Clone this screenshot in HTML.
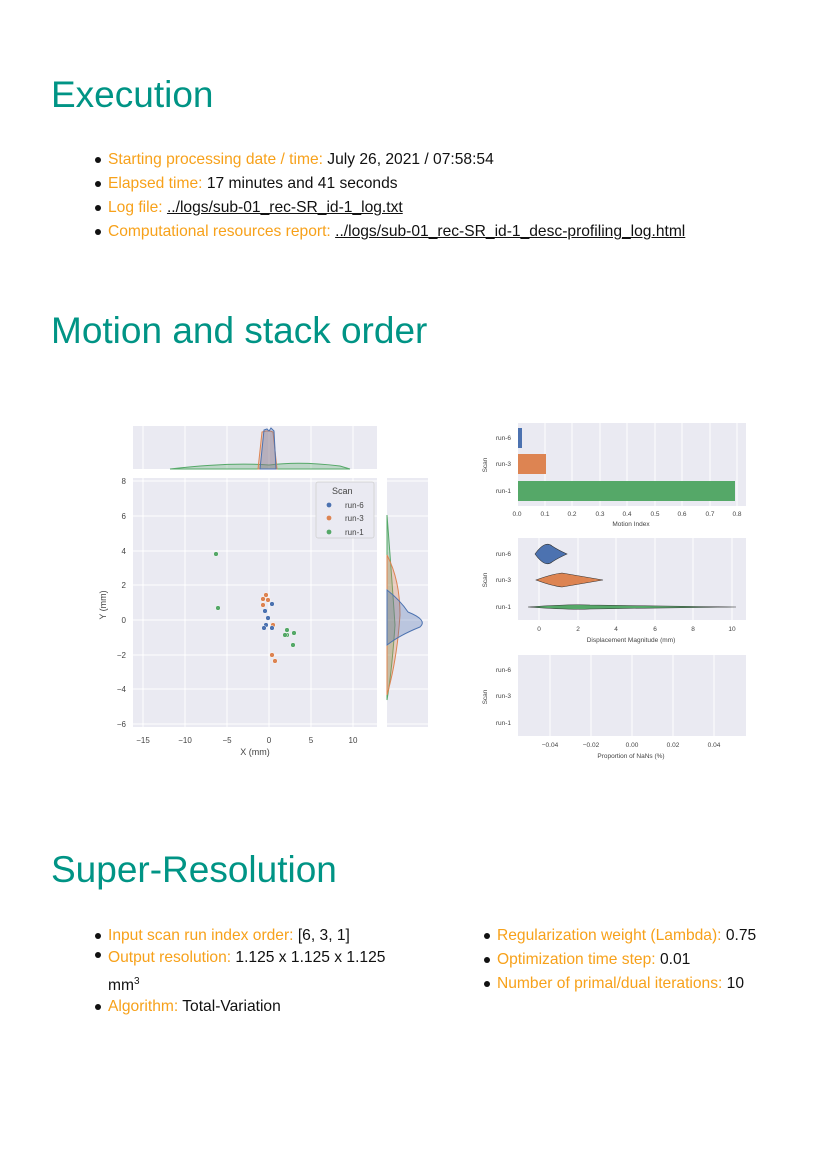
<!DOCTYPE html>
<html><head><meta charset="utf-8"><style>
body{margin:0;background:#fff;}
#p{position:relative;width:826px;height:1169px;overflow:hidden;font-family:"Liberation Sans",sans-serif;}
h1{position:absolute;margin:0;font-weight:normal;font-size:37px;color:#009485;left:51px;}
.li{position:absolute;font-size:15.6px;color:#111;white-space:nowrap;}
.li:before{content:"";position:absolute;left:-13px;top:6px;width:6px;height:6px;border-radius:50%;background:#111;}
.o{color:#f7a11a;}
.u{text-decoration:underline;}
</style></head><body><div id="p">
<h1 style="top:74px">Execution</h1>
<div class="li" style="left:108px;top:151px"><span class="o">Starting processing date / time:</span> July 26, 2021 / 07:58:54</div>
<div class="li" style="left:108px;top:175px"><span class="o">Elapsed time:</span> 17 minutes and 41 seconds</div>
<div class="li" style="left:108px;top:199px"><span class="o">Log file:</span> <span class="u">../logs/sub-01_rec-SR_id-1_log.txt</span></div>
<div class="li" style="left:108px;top:223px"><span class="o">Computational resources report:</span> <span class="u">../logs/sub-01_rec-SR_id-1_desc-profiling_log.html</span></div>
<h1 style="top:310px">Motion and stack order</h1>
<h1 style="top:849px">Super-Resolution</h1>
<div class="li" style="left:108px;top:927px"><span class="o">Input scan run index order:</span> [6, 3, 1]</div>
<div class="li" style="left:108px;line-height:24px;top:946px"><span class="o">Output resolution:</span> 1.125 x 1.125 x 1.125<br>mm<sup style="font-size:10px">3</sup></div>
<div class="li" style="left:108px;top:998px"><span class="o">Algorithm:</span> Total-Variation</div>
<div class="li" style="left:497px;top:927px"><span class="o">Regularization weight (Lambda):</span> 0.75</div>
<div class="li" style="left:497px;top:951px"><span class="o">Optimization time step:</span> 0.01</div>
<div class="li" style="left:497px;top:975px"><span class="o">Number of primal/dual iterations:</span> 10</div>

<svg width="826" height="1169" style="position:absolute;left:0;top:0" font-family="Liberation Sans, sans-serif" font-size="8" fill="#444">
<rect x="133" y="426" width="244" height="43" fill="#eaeaf2"/>
<g stroke="#fff" stroke-width="1"><line x1="143" y1="426" x2="143" y2="469"/><line x1="185" y1="426" x2="185" y2="469"/><line x1="227" y1="426" x2="227" y2="469"/><line x1="269" y1="426" x2="269" y2="469"/><line x1="311" y1="426" x2="311" y2="469"/><line x1="353" y1="426" x2="353" y2="469"/></g>
<path d="M170,469 Q230,462 269,465 Q300,461 340,466 L350,469Z" fill="#55a868" fill-opacity=".3" stroke="#55a868"/>
<path d="M258,469 L262,432 L266,431 L270,431 L273,432 L277,469Z" fill="#dd8452" fill-opacity=".3" stroke="#dd8452"/>
<path d="M260,469 L264,430 L267,429 L269,431 L271,428 L274,431 L276,469Z" fill="#4c72b0" fill-opacity=".3" stroke="#4c72b0"/>
<rect x="387" y="478" width="41" height="249" fill="#eaeaf2"/>
<g stroke="#fff"><line x1="387" y1="481" x2="428" y2="481"/><line x1="387" y1="516" x2="428" y2="516"/><line x1="387" y1="551" x2="428" y2="551"/><line x1="387" y1="585" x2="428" y2="585"/><line x1="387" y1="620" x2="428" y2="620"/><line x1="387" y1="655" x2="428" y2="655"/><line x1="387" y1="689" x2="428" y2="689"/><line x1="387" y1="724" x2="428" y2="724"/></g>
<path d="M387,515 Q392,580 395,625 Q392,670 387,700Z" fill="#55a868" fill-opacity=".3" stroke="#55a868"/>
<path d="M387,555 Q400,580 400,615 Q397,660 387,695Z" fill="#dd8452" fill-opacity=".3" stroke="#dd8452"/>
<path d="M387,590 Q400,600 408,612 Q428,620 420,627 Q400,635 387,645Z" fill="#4c72b0" fill-opacity=".3" stroke="#4c72b0"/>
<rect x="133" y="478" width="244" height="249" fill="#eaeaf2"/>
<g stroke="#fff"><line x1="143" y1="478" x2="143" y2="727"/><line x1="185" y1="478" x2="185" y2="727"/><line x1="227" y1="478" x2="227" y2="727"/><line x1="269" y1="478" x2="269" y2="727"/><line x1="311" y1="478" x2="311" y2="727"/><line x1="353" y1="478" x2="353" y2="727"/>
<line x1="133" y1="481" x2="377" y2="481"/><line x1="133" y1="516" x2="377" y2="516"/><line x1="133" y1="551" x2="377" y2="551"/><line x1="133" y1="585" x2="377" y2="585"/><line x1="133" y1="620" x2="377" y2="620"/><line x1="133" y1="655" x2="377" y2="655"/><line x1="133" y1="689" x2="377" y2="689"/><line x1="133" y1="724" x2="377" y2="724"/></g>
<g text-anchor="end"><text x="126" y="484">8</text><text x="126" y="519">6</text><text x="126" y="554">4</text><text x="126" y="588">2</text><text x="126" y="623">0</text><text x="126" y="658">−2</text><text x="126" y="692">−4</text><text x="126" y="727">−6</text></g>
<g text-anchor="middle"><text x="143" y="743">−15</text><text x="185" y="743">−10</text><text x="227" y="743">−5</text><text x="269" y="743">0</text><text x="311" y="743">5</text><text x="353" y="743">10</text>
<text x="255" y="755" font-size="9">X (mm)</text><text transform="translate(106,605) rotate(-90)" font-size="9">Y (mm)</text></g>
<g fill="#55a868" stroke="#fff" stroke-width=".5"><circle cx="216" cy="554" r="2.4"/><circle cx="218" cy="608" r="2.4"/><circle cx="287" cy="630" r="2.4"/><circle cx="294" cy="633" r="2.4"/><circle cx="287" cy="635" r="2.4"/><circle cx="285" cy="635" r="2.4"/><circle cx="293" cy="645" r="2.4"/></g>
<g fill="#dd8452" stroke="#fff" stroke-width=".5"><circle cx="266" cy="595" r="2.4"/><circle cx="263" cy="599" r="2.4"/><circle cx="268" cy="600" r="2.4"/><circle cx="263" cy="605" r="2.4"/><circle cx="273" cy="625" r="2.4"/><circle cx="272" cy="655" r="2.4"/><circle cx="275" cy="661" r="2.4"/></g>
<g fill="#4c72b0" stroke="#fff" stroke-width=".5"><circle cx="272" cy="604" r="2.4"/><circle cx="265" cy="611" r="2.4"/><circle cx="268" cy="618" r="2.4"/><circle cx="266" cy="625" r="2.4"/><circle cx="264" cy="628" r="2.4"/><circle cx="272" cy="628" r="2.4"/></g>
<rect x="316" y="482" width="58" height="56" fill="#eaeaf2" stroke="#ccc" stroke-width=".7" rx="2"/>
<text x="332" y="494" font-size="9">Scan</text>
<circle cx="329" cy="505" r="2.4" fill="#4c72b0"/><text x="345" y="508">run-6</text>
<circle cx="329" cy="518" r="2.4" fill="#dd8452"/><text x="345" y="521">run-3</text>
<circle cx="329" cy="532" r="2.4" fill="#55a868"/><text x="345" y="535">run-1</text>

<g font-size="6.5">
<rect x="518" y="423" width="228" height="83" fill="#eaeaf2"/>
<g stroke="#fff"><line x1="545" y1="423" x2="545" y2="506"/><line x1="572" y1="423" x2="572" y2="506"/><line x1="600" y1="423" x2="600" y2="506"/><line x1="627" y1="423" x2="627" y2="506"/><line x1="655" y1="423" x2="655" y2="506"/><line x1="682" y1="423" x2="682" y2="506"/><line x1="710" y1="423" x2="710" y2="506"/><line x1="737" y1="423" x2="737" y2="506"/></g>
<rect x="518" y="428" width="4" height="20" fill="#4c72b0"/>
<rect x="518" y="454" width="28" height="20" fill="#dd8452"/>
<rect x="518" y="481" width="217" height="20" fill="#55a868"/>
<g text-anchor="end"><text x="511" y="440">run-6</text><text x="511" y="466">run-3</text><text x="511" y="493">run-1</text></g>
<text transform="translate(487,465) rotate(-90)" text-anchor="middle">Scan</text>
<g text-anchor="middle"><text x="517" y="516">0.0</text><text x="545" y="516">0.1</text><text x="572" y="516">0.2</text><text x="600" y="516">0.3</text><text x="627" y="516">0.4</text><text x="655" y="516">0.5</text><text x="682" y="516">0.6</text><text x="710" y="516">0.7</text><text x="737" y="516">0.8</text><text x="631" y="526">Motion Index</text></g>

<rect x="518" y="538" width="228" height="82" fill="#eaeaf2"/>
<g stroke="#fff"><line x1="539" y1="538" x2="539" y2="620"/><line x1="578" y1="538" x2="578" y2="620"/><line x1="616" y1="538" x2="616" y2="620"/><line x1="655" y1="538" x2="655" y2="620"/><line x1="693" y1="538" x2="693" y2="620"/><line x1="732" y1="538" x2="732" y2="620"/></g>
<path d="M535,554 Q545,540 552,546 Q558,550 567,554 Q558,558 552,562 Q545,568 535,554Z" fill="#4c72b0" stroke="#333" stroke-width=".6"/>
<path d="M536,580 Q552,574 562,573 Q580,576 603,580 Q580,584 562,587 Q552,586 536,580Z" fill="#dd8452" stroke="#333" stroke-width=".6"/>
<path d="M528,607 Q570,604 590,605 Q650,606 736,607 Q650,608 590,609 Q570,610 528,607Z" fill="#55a868" stroke="#333" stroke-width=".6"/>
<g text-anchor="end"><text x="511" y="556">run-6</text><text x="511" y="582">run-3</text><text x="511" y="609">run-1</text></g>
<text transform="translate(487,580) rotate(-90)" text-anchor="middle">Scan</text>
<g text-anchor="middle"><text x="539" y="631">0</text><text x="578" y="631">2</text><text x="616" y="631">4</text><text x="655" y="631">6</text><text x="693" y="631">8</text><text x="732" y="631">10</text><text x="631" y="642">Displacement Magnitude (mm)</text></g>

<rect x="518" y="655" width="228" height="81" fill="#eaeaf2"/>
<g stroke="#fff"><line x1="550" y1="655" x2="550" y2="736"/><line x1="591" y1="655" x2="591" y2="736"/><line x1="632" y1="655" x2="632" y2="736"/><line x1="673" y1="655" x2="673" y2="736"/><line x1="714" y1="655" x2="714" y2="736"/></g>
<g text-anchor="end"><text x="511" y="672">run-6</text><text x="511" y="698">run-3</text><text x="511" y="725">run-1</text></g>
<text transform="translate(487,697) rotate(-90)" text-anchor="middle">Scan</text>
<g text-anchor="middle"><text x="550" y="747">−0.04</text><text x="591" y="747">−0.02</text><text x="632" y="747">0.00</text><text x="673" y="747">0.02</text><text x="714" y="747">0.04</text><text x="631" y="758">Proportion of NaNs (%)</text></g>
</g>
</svg>
</div></body></html>
